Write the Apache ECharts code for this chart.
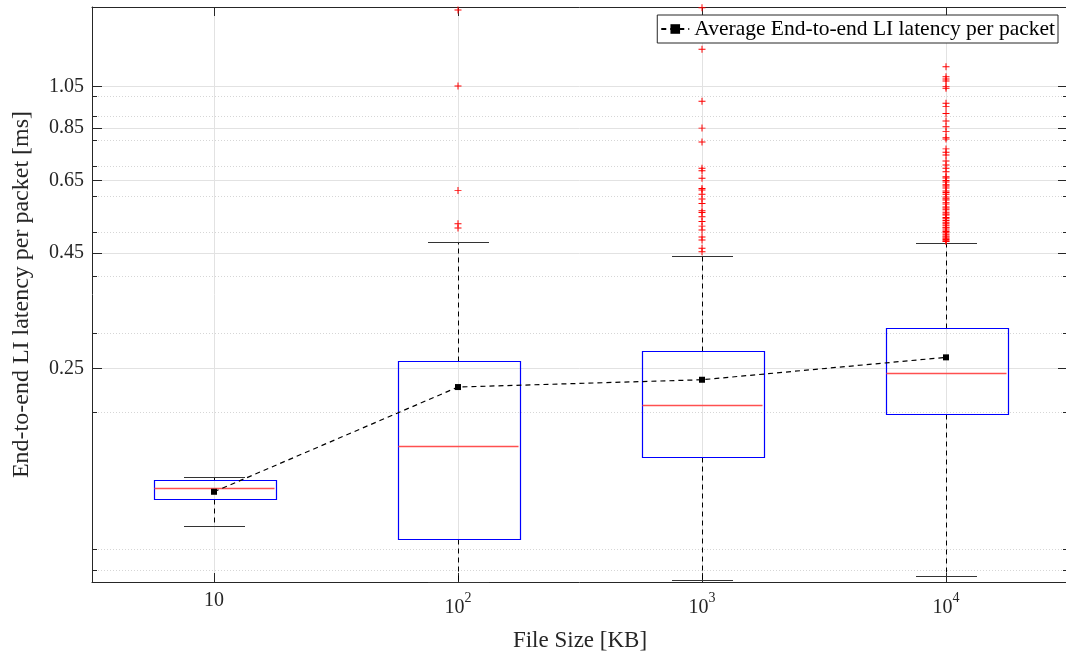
<!DOCTYPE html>
<html>
<head>
<meta charset="utf-8">
<script src="https://cdn.jsdelivr.net/npm/echarts@6/dist/echarts.min.js"></script>
<style>
html,body{margin:0;padding:0;background:#fff;}
#chart{width:1066px;height:653px;}
</style>
</head>
<body>
<div id="chart"></div>
<script>
// ---- data ----
const categories = ['10', '10^2', '10^3', '10^4'];
const lowerWhisker = [0.1126, 0.0848, 0.0854, 0.0873];
const q1 = [0.1287, 0.1051, 0.1594, 0.1983];
const median = [0.1364, 0.1690, 0.2079, 0.2450];
const q3 = [0.1420, 0.2604, 0.2739, 0.3079];
const upperWhisker = [0.1440, 0.4767, 0.4432, 0.4742];
const means = [0.1338, 0.2278, 0.2364, 0.2649];
const outliers1 = [];
const outliers2 = [1.547, 1.052, 0.618, 0.522, 0.511];
const outliers3 = [1.565, 1.267, 0.973, 0.849, 0.791, 0.692, 0.684, 0.658, 0.625, 0.620, 0.607,
  0.592, 0.579, 0.558, 0.553, 0.541, 0.528, 0.516, 0.506, 0.488, 0.481, 0.461, 0.453];
const outliers4 = [1.160, 1.102, 1.090, 1.079, 1.048, 1.039, 0.963, 0.947, 0.915, 0.880, 0.855,
  0.834, 0.809, 0.803, 0.764, 0.751, 0.741, 0.718, 0.704, 0.692, 0.680, 0.663, 0.659, 0.651,
  0.646, 0.637, 0.633, 0.626, 0.617, 0.612, 0.607, 0.598, 0.593, 0.589, 0.581, 0.577, 0.569,
  0.566, 0.561, 0.554, 0.549, 0.546, 0.539, 0.536, 0.531, 0.526, 0.522, 0.518, 0.513, 0.511,
  0.506, 0.502, 0.499, 0.495, 0.491, 0.488, 0.485, 0.482, 0.479, 0.477];
const majorTicks = [0.25, 0.45, 0.65, 0.85, 1.05];
const minorTicks = [0.09, 0.1, 0.2, 0.3, 0.4, 0.5, 0.6, 0.7, 0.8, 0.9, 1.0];
const yMin = 0.0846, yMax = 1.571;
const legendName = 'Average End-to-end LI latency per packet';

// ---- build library inputs ----
const catIdx = categories.map((c, i) => i);
const boxData = catIdx.map(i => [i, lowerWhisker[i], q1[i], median[i], q3[i], upperWhisker[i]]);
const meanData = catIdx.map(i => [i, means[i]]);
const outlierData = [];
[outliers1, outliers2, outliers3, outliers4].forEach((arr, i) => arr.forEach(v => outlierData.push([i, v])));

const FONT = 'Liberation Serif';
const AXIS_COLOR = '#262626';
const GRID_COLOR = '#e2e2e2';
const BOX_WIDTH = 0.5;

function xLabel(v) {
  const s = categories[Math.round(v)];
  if (s.indexOf('^') >= 0) {
    const p = s.split('^');
    return '{base|' + p[0] + '}{sup|' + p[1] + '}';
  }
  return s;
}

function renderBox(params, api) {
  const x = api.value(0);
  const lo = api.coord([x, api.value(1)]);
  const b1 = api.coord([x, api.value(2)]);
  const md = api.coord([x, api.value(3)]);
  const b3 = api.coord([x, api.value(4)]);
  const hi = api.coord([x, api.value(5)]);
  const w = api.size([BOX_WIDTH, 0], [x, 1])[0];
  const cx = Math.round(lo[0]) + 0.5;
  const half = w / 2, cap = w / 4;
  const r = v => Math.round(v) + 0.5;
  const dash = {stroke: '#000', lineWidth: 1, lineDash: [5, 4]};
  const capStyle = {stroke: '#333', lineWidth: 1.2};
  return {
    type: 'group',
    children: [
      {type: 'line', shape: {x1: cx, y1: r(b3[1]), x2: cx, y2: r(hi[1])}, style: dash},
      {type: 'line', shape: {x1: cx, y1: r(b1[1]), x2: cx, y2: r(lo[1])}, style: dash},
      {type: 'line', shape: {x1: cx - cap, y1: r(hi[1]), x2: cx + cap, y2: r(hi[1])}, style: capStyle},
      {type: 'line', shape: {x1: cx - cap, y1: r(lo[1]), x2: cx + cap, y2: r(lo[1])}, style: capStyle},
      {type: 'rect', shape: {x: r(cx - half), y: r(b3[1]), width: Math.round(w), height: Math.round(b1[1]) - Math.round(b3[1])},
        style: {fill: 'none', stroke: '#0000ff', lineWidth: 1.2}},
      {type: 'line', shape: {x1: cx - half + 1, y1: r(md[1]), x2: cx + half - 1, y2: r(md[1])},
        style: {stroke: '#ff5050', lineWidth: 1.6}}
    ]
  };
}

const yCommon = {type: 'log', logBase: 10, min: yMin, max: yMax};

const option = {
  backgroundColor: '#fff',
  animation: false,
  textStyle: {fontFamily: FONT},
  grid: {left: 92, top: 7, width: 976, height: 575, containLabel: false, outerBoundsMode: 'none'},
  legend: {
    data: [legendName],
    right: 8, top: 15,
    backgroundColor: '#fff',
    borderColor: AXIS_COLOR, borderWidth: 1,
    padding: [3, 3, 3, 3],
    itemWidth: 28, itemHeight: 12,
    textStyle: {fontFamily: FONT, fontSize: 21.5, color: '#000', lineHeight: 22}
  },
  xAxis: [
    {
      type: 'value', min: -0.5, max: 3.5, position: 'bottom',
      name: 'File Size [KB]', nameLocation: 'middle', nameGap: 39,
      nameTextStyle: {fontFamily: FONT, fontSize: 23, color: AXIS_COLOR},
      axisLine: {show: true, onZero: false, lineStyle: {color: AXIS_COLOR, width: 1}},
      axisTick: {show: true, inside: true, length: 9, customValues: catIdx, lineStyle: {color: AXIS_COLOR}},
      axisLabel: {
        customValues: catIdx, formatter: xLabel, margin: 9,
        fontFamily: FONT, fontSize: 20, lineHeight: 20, color: AXIS_COLOR,
        rich: {
          base: {fontFamily: FONT, fontSize: 20, lineHeight: 34, color: AXIS_COLOR},
          sup: {fontFamily: FONT, fontSize: 14, lineHeight: 24, verticalAlign: 'top', color: AXIS_COLOR}
        }
      },
      splitLine: {show: true, lineStyle: {color: GRID_COLOR, width: 1}}
    },
    {
      type: 'value', min: -0.5, max: 3.5, position: 'top',
      axisLine: {show: true, onZero: false, lineStyle: {color: AXIS_COLOR, width: 1}},
      axisTick: {show: true, inside: true, length: 9, customValues: catIdx, lineStyle: {color: AXIS_COLOR}},
      axisLabel: {show: false},
      splitLine: {show: false}
    }
  ],
  yAxis: [
    Object.assign({}, yCommon, {
      position: 'left',
      name: 'End-to-end LI latency per packet [ms]', nameLocation: 'middle', nameGap: 58,
      nameTextStyle: {fontFamily: FONT, fontSize: 24, color: AXIS_COLOR},
      axisLine: {show: true, onZero: false, lineStyle: {color: AXIS_COLOR, width: 1}},
      axisTick: {show: true, inside: true, length: 10, customValues: majorTicks, lineStyle: {color: AXIS_COLOR}},
      axisLabel: {customValues: majorTicks, formatter: v => Number(v).toFixed(2), margin: 8,
        fontFamily: FONT, fontSize: 20, color: AXIS_COLOR},
      splitLine: {show: true, lineStyle: {color: GRID_COLOR, width: 1}},
      minorTick: {show: false}, minorSplitLine: {show: false}
    }),
    Object.assign({}, yCommon, {
      position: 'left',
      axisLine: {show: false, onZero: false},
      axisTick: {show: true, inside: true, length: 5, customValues: minorTicks, lineStyle: {color: AXIS_COLOR}},
      axisLabel: {show: false},
      splitLine: {show: true, lineStyle: {color: '#d6d6d6', width: 1, type: [1, 2]}}
    }),
    Object.assign({}, yCommon, {
      position: 'right',
      axisLine: {show: true, onZero: false, lineStyle: {color: AXIS_COLOR, width: 1}},
      axisTick: {show: true, inside: true, length: 10, customValues: majorTicks, lineStyle: {color: AXIS_COLOR}},
      axisLabel: {show: false},
      splitLine: {show: false}
    }),
    Object.assign({}, yCommon, {
      position: 'right',
      axisLine: {show: false, onZero: false},
      axisTick: {show: true, inside: true, length: 5, customValues: minorTicks, lineStyle: {color: AXIS_COLOR}},
      axisLabel: {show: false},
      splitLine: {show: false}
    })
  ],
  series: [
    {
      name: 'box', type: 'custom', xAxisIndex: 0, yAxisIndex: 0,
      renderItem: renderBox,
      encode: {x: 0, y: [1, 2, 3, 4, 5]},
      data: boxData, z: 3, silent: true
    },
    {
      name: 'outliers', type: 'scatter', xAxisIndex: 0, yAxisIndex: 0,
      symbol: 'path://M-0.14,-1H0.14V-0.14H1V0.14H0.14V1H-0.14V0.14H-1V-0.14H-0.14Z',
      symbolSize: 7,
      itemStyle: {color: '#ff0000', opacity: 1},
      data: outlierData, z: 4, silent: true
    },
    {
      name: legendName, type: 'line', xAxisIndex: 0, yAxisIndex: 0,
      data: meanData,
      symbol: 'rect', symbolSize: 6, showSymbol: true,
      itemStyle: {color: '#000'},
      lineStyle: {color: '#000', width: 1.2, type: [5, 4]},
      z: 5, silent: true
    }
  ]
};

const chart = echarts.init(document.getElementById('chart'), null, {renderer: 'canvas'});
chart.setOption(option);
</script>
</body>
</html>
